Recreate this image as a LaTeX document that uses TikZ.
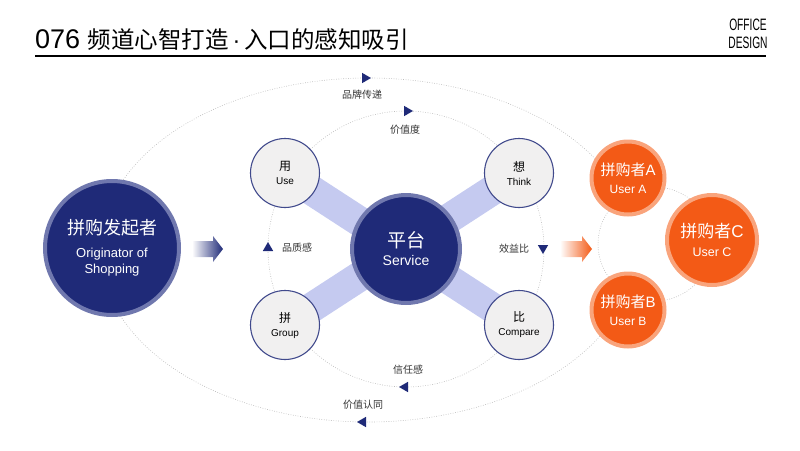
\documentclass[tikz,border=0pt]{standalone}
\usepackage{fontspec}
\setmainfont{Liberation Sans}
\newfontfamily\cjk{Noto Sans CJK SC}
\newfontfamily\narrowsf[FakeStretch=0.62]{Liberation Sans}
\usepackage{xcolor}
\usepackage{tikz}
\usetikzlibrary{positioning,shapes.geometric,backgrounds,calc}

\definecolor{navy}{HTML}{1F2A78}
\definecolor{navyring}{HTML}{7078AE}
\definecolor{barblue}{HTML}{C5CAF0}
\definecolor{circfill}{HTML}{F1F0F0}
\definecolor{orng}{HTML}{F35A16}
\definecolor{orngring}{HTML}{F9A47C}
\definecolor{dotgray}{HTML}{BDBDBD}
\definecolor{txtgray}{HTML}{333333}

\begin{document}
\begin{tikzpicture}[
        x=1pt, y=-1pt,
        bigdisc/.style  ={circle, fill=navy, draw=navyring, line width=4pt, text=white, align=center, inner sep=0pt},
        smalldisc/.style={circle, fill=circfill, draw=navy!85, line width=1.1pt, minimum size=69pt,
                          align=center, inner sep=0pt, font=\fontsize{10}{14}\selectfont},
        userdisc/.style ={circle, fill=orng, draw=orngring, line width=4pt, text=white, align=center, inner sep=0pt},
        dotline/.style  ={draw=dotgray, line width=0.6pt, dash pattern=on 0.8pt off 1.6pt},
        flowbar/.style  ={draw=barblue, line width=30pt},
        tri/.style      ={regular polygon, regular polygon sides=3, fill=navy, minimum size=12pt, inner sep=0pt},
        cue/.style      ={font=\cjk\fontsize{10}{12}\selectfont, text=txtgray, inner sep=1pt}
    ]
        \useasboundingbox (0,0) rectangle (800,450);
        % header
        \node[anchor=base west, inner sep=0pt] (title) at (35,48)
              {\fontsize{27}{30}\selectfont 076 {\cjk\fontsize{23.5}{28}\selectfont 频道心智打造}%
               {\fontsize{23.5}{28}\selectfont\,·\,}{\cjk\fontsize{23.5}{28}\selectfont 入口的感知吸引}};
        \node[anchor=north, align=center, inner sep=0pt, font=\narrowsf\fontsize{16.5}{18}\selectfont]
              (brand) at (748,19) {OFFICE\\DESIGN};
        \draw[line width=1.3pt] (35,56) -- (766,56);
        % originator and platform
        \node[bigdisc, minimum size=134pt, font=\fontsize{13}{16}\selectfont] (origin) at (112,248)
              {{\cjk\fontsize{18}{22}\selectfont 拼购发起者}\\[7pt]Originator of\\Shopping};
        \node[bigdisc, minimum size=108pt, font=\fontsize{14}{18}\selectfont] (plat) at (406,249)
              {{\cjk\fontsize{19}{22}\selectfont 平台}\\Service};
        % four satellites
        \foreach \nm/\x/\y/\zh/\en in {use/285/173/用/Use, think/519/173/想/Think,
                                       grp/285/325/拼/Group, cmp/519/325/比/Compare}
            \node[smalldisc] (\nm) at (\x,\y) {{\cjk\fontsize{12}{14}\selectfont \zh}\\\en};
        % users
        \node[userdisc, minimum size=73pt, font=\fontsize{12}{18}\selectfont] (usera) at (628,178)
              {{\fontsize{15}{17}\selectfont{\cjk 拼购者}A}\\User A};
        \node[userdisc, minimum size=73pt, font=\fontsize{12}{18}\selectfont] (userb) at (628,310)
              {{\fontsize{15}{17}\selectfont{\cjk 拼购者}B}\\User B};
        \node[userdisc, minimum size=90pt, font=\fontsize{12.5}{19}\selectfont] (userc) at (712,240)
              {{\fontsize{17}{19}\selectfont{\cjk 拼购者}C}\\User C};
        % rings and bars behind
        \begin{scope}[on background layer]
            \draw[dotline] ($(368,250)+(28:268 and 172)$)
                  arc[start angle=28, end angle=332, x radius=268, y radius=172];
            \draw[dotline] (plat.center) circle[radius=138];
            \draw[dotline] (655,244) circle[radius=57];
            \draw[flowbar] (use.center) -- (cmp.center);
            \draw[flowbar] (think.center) -- (grp.center);
        \end{scope}
        % block arrows
        \shade[left color=white, right color=navy]
              (192,241) -- (213,241) -- (213,236) -- (223,249) -- (213,262) -- (213,257) -- (192,257) -- cycle;
        \shade[left color=white, right color=orng]
              (560,241) -- (582,241) -- (582,236) -- (592,249) -- (582,262) -- (582,257) -- (560,257) -- cycle;
        % direction marks
        \foreach \x/\y/\r [count=\i] in {365/78/-90, 407/111/-90, 363/422/90, 405/387/90, 268/248/0, 543/248/180}
            \node[tri, shape border rotate=\r] (tri\i) at (\x,\y) {};
        % ring labels
        \foreach \nm/\x/\y/\txt in {brandcue/362/95/品牌传递, valuecue/405/130/价值度, qualcue/297/248/品质感,
                                    gaincue/514/249/效益比, trustcue/408/370/信任感, idcue/363/405/价值认同}
            \node[cue] (\nm) at (\x,\y) {\txt};
\end{tikzpicture}
\end{document}
